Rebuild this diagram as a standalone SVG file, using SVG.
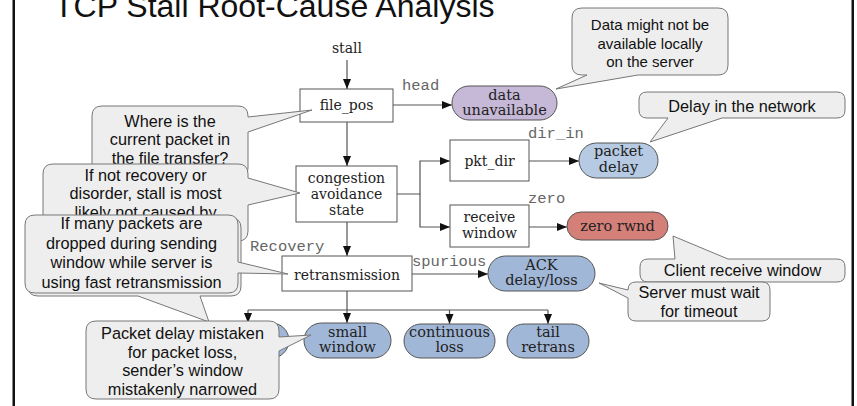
<svg xmlns="http://www.w3.org/2000/svg" width="857" height="406" viewBox="0 0 857 406">
<defs>
<marker id="arr" markerUnits="userSpaceOnUse" markerWidth="10" markerHeight="10" viewBox="0 0 10 10" refX="10" refY="5" orient="auto">
<path d="M0,1 L10,5 L0,9 Z" fill="#111"/>
</marker>
</defs>
<style>
.frame{fill:#111}
.title{font-family:"Liberation Sans",Arial,sans-serif;font-size:32px;fill:#111}
.box{fill:#fff;stroke:#555;stroke-width:1}
.pill{stroke:#555;stroke-width:1}
.purple{fill:#c6b8d7}
.lblue{fill:#b7cae3}
.mblue{fill:#a1b7d7}
.red{fill:#d57f79}
.nt{font-family:"DejaVu Serif","Liberation Serif",serif;font-size:14px;fill:#222;text-anchor:middle}
.pt{font-family:"DejaVu Serif","Liberation Serif",serif;font-size:14.5px;fill:#222;text-anchor:middle}
.edge{fill:none;stroke:#555;stroke-width:1.2}
.arrow{marker-end:url(#arr)}
.el{font-family:"Liberation Mono","DejaVu Sans Mono",monospace;font-size:15.5px;fill:#666}
.co{fill:#eeeeee;stroke:#777;stroke-width:1}
.ct{font-family:"Liberation Sans",Arial,sans-serif;font-size:16.3px;fill:#111;text-anchor:middle}
</style>
<rect class="frame" x="12.5" y="0" width="2.5" height="406"/>
<rect class="frame" x="851.5" y="0" width="2.5" height="406"/>
<text class="title" x="54" y="17">TCP Stall Root-Cause Analysis</text>

<g id="connectors">
<path class="edge arrow" d="M347,60 V89"/>
<path class="edge arrow" d="M393,105 H452"/>
<text class="el" x="402" y="90">head</text>
<path class="edge arrow" d="M347,122 V166"/>
<path class="edge arrow" d="M397,194 H420 V161 H450"/>
<path class="edge arrow" d="M420,194 V227 H450"/>
<path class="edge arrow" d="M529,161 H579"/>
<text class="el" x="528" y="138">dir_in</text>
<path class="edge arrow" d="M529,227 H567"/>
<text class="el" x="528" y="203">zero</text>
<path class="edge arrow" d="M347,222 V256"/>
<text class="el" x="250" y="251">Recovery</text>
<path class="edge arrow" d="M412,274 H488"/>
<text class="el" x="412" y="266">spurious</text>
<path class="edge arrow" d="M347,291 V323"/>
<path class="edge" d="M248,310 H548"/>
<path class="edge arrow" d="M248,310 V323"/>
<path class="edge arrow" d="M449.5,310 V324"/>
<path class="edge arrow" d="M548,310 V324"/>
</g>

<g id="stall"><text class="nt" x="347" y="53">stall</text></g>
<g id="file_pos"><rect class="box" x="300" y="89" width="93" height="33"/><text class="nt" x="346.5" y="109.5">file_pos</text></g>
<g id="data_unavailable"><rect class="pill purple" x="452" y="86" width="105" height="34" rx="17"/><text class="pt" x="504.5" y="100">data</text><text class="pt" x="504.5" y="114.5">unavailable</text></g>
<g id="congestion"><rect class="box" x="296" y="166" width="101" height="56"/><text class="nt" x="346.5" y="182.5">congestion</text><text class="nt" x="346.5" y="198.5">avoidance</text><text class="nt" x="346.5" y="214.5">state</text></g>
<g id="pkt_dir"><rect class="box" x="450" y="140" width="79" height="41"/><text class="nt" x="489.5" y="166">pkt_dir</text></g>
<g id="packet_delay"><rect class="pill lblue" x="579" y="143" width="79" height="35" rx="17.5"/><text class="pt" x="618.5" y="156">packet</text><text class="pt" x="618.5" y="172">delay</text></g>
<g id="receive_window"><rect class="box" x="450" y="205" width="79" height="42"/><text class="nt" x="489.5" y="222">receive</text><text class="nt" x="489.5" y="238">window</text></g>
<g id="zero_rwnd"><rect class="pill red" x="567" y="212" width="101" height="28" rx="14"/><text class="pt" x="617.5" y="230.5">zero rwnd</text></g>
<g id="retransmission"><rect class="box" x="282" y="256" width="130" height="35"/><text class="nt" x="347" y="279.5">retransmission</text></g>
<g id="ack_delay"><rect class="pill mblue" x="488" y="256" width="107" height="35" rx="17.5"/><text class="pt" x="541.5" y="269.5">ACK</text><text class="pt" x="541.5" y="285">delay/loss</text></g>
<g id="hidden_leaf"><rect class="pill mblue" x="207" y="323" width="82" height="35" rx="17.5"/></g>
<g id="small_window"><rect class="pill mblue" x="304" y="323" width="87" height="35" rx="17.5"/><text class="pt" x="347.5" y="337">small</text><text class="pt" x="347.5" y="352">window</text></g>
<g id="continuous_loss"><rect class="pill mblue" x="404" y="324" width="91" height="34" rx="17"/><text class="pt" x="449.5" y="337">continuous</text><text class="pt" x="449.5" y="352">loss</text></g>
<g id="tail_retrans"><rect class="pill mblue" x="507" y="324" width="82" height="34" rx="17"/><text class="pt" x="548" y="337">tail</text><text class="pt" x="548" y="352">retrans</text></g>

<g id="callout_where">
<path class="co" d="M102,106 H238 Q248,106 248,116 V117 L312,110 L248,132 V168 Q248,178 238,178 H102 Q92,178 92,168 V116 Q92,106 102,106 Z"/>
<text class="ct" x="170" y="126.5">Where is the</text>
<text class="ct" x="170" y="145">current packet in</text>
<text class="ct" x="170" y="163.5">the file transfer?</text>
</g>
<g id="callout_recovery">
<path class="co" d="M53,164 H238 Q248,164 248,174 V178 L300,193 L248,205 V231 Q248,241 238,241 H53 Q43,241 43,231 V174 Q43,164 53,164 Z"/>
<text class="ct" x="145.5" y="180.5">If not recovery or</text>
<text class="ct" x="145.5" y="199">disorder, stall is most</text>
<text class="ct" x="145.5" y="217.5">likely not caused by</text>
</g>
<g id="callout_hidden">
<path class="co" d="M38,218 H231 Q241,218 241,228 V286 Q241,296 231,296 H200 L209,322 L138,296 H38 Q28,296 28,286 V228 Q28,218 38,218 Z"/>
</g>
<g id="callout_many">
<path class="co" d="M35,215 H228 Q238,215 238,225 V262 L288,274 L238,273 V283 Q238,293 228,293 H35 Q25,293 25,283 V225 Q25,215 35,215 Z"/>
<text class="ct" x="131.5" y="229">If many packets are</text>
<text class="ct" x="131.5" y="248.5">dropped during sending</text>
<text class="ct" x="131.5" y="268">window while server is</text>
<text class="ct" x="131.5" y="287.5">using fast retransmission</text>
</g>
<g id="callout_data">
<path class="co" d="M582,8 H718 Q728,8 728,18 V65 Q728,75 718,75 H638 L556,89 L587,75 H582 Q572,75 572,65 V18 Q572,8 582,8 Z"/>
<text class="ct" x="650" y="30" style="font-size:15px">Data might not be</text>
<text class="ct" x="650" y="48.5" style="font-size:15px">available locally</text>
<text class="ct" x="650" y="67" style="font-size:15px">on the server</text>
</g>
<g id="callout_network">
<path class="co" d="M647,92 H837 Q845,92 845,100 V110 Q845,118 837,118 H722 L650,142 L668,118 H647 Q639,118 639,110 V100 Q639,92 647,92 Z"/>
<text class="ct" x="742" y="112">Delay in the network</text>
</g>
<g id="callout_client">
<path class="co" d="M648,259 H675 L673,236 L728,259 H837 Q845,259 845,267 V274 Q845,282 837,282 H648 Q640,282 640,274 V267 Q640,259 648,259 Z"/>
<text class="ct" x="742.5" y="275.5">Client receive window</text>
</g>
<g id="callout_server">
<path class="co" d="M636,282 H762 Q770,282 770,290 V313 Q770,321 762,321 H636 Q628,321 628,313 V298 L599,283 L628,290 Q628,282 636,282 Z"/>
<text class="ct" x="699" y="298">Server must wait</text>
<text class="ct" x="699" y="316.5">for timeout</text>
</g>
<g id="callout_packet">
<path class="co" d="M96,321 H269 Q279,321 279,331 V337 L311,335 L279,351 V389 Q279,399 269,399 H96 Q86,399 86,389 V331 Q86,321 96,321 Z"/>
<text class="ct" x="182.5" y="339">Packet delay mistaken</text>
<text class="ct" x="182.5" y="357.5">for packet loss,</text>
<text class="ct" x="182.5" y="376">sender’s window</text>
<text class="ct" x="182.5" y="394.5">mistakenly narrowed</text>
</g>
</svg>
